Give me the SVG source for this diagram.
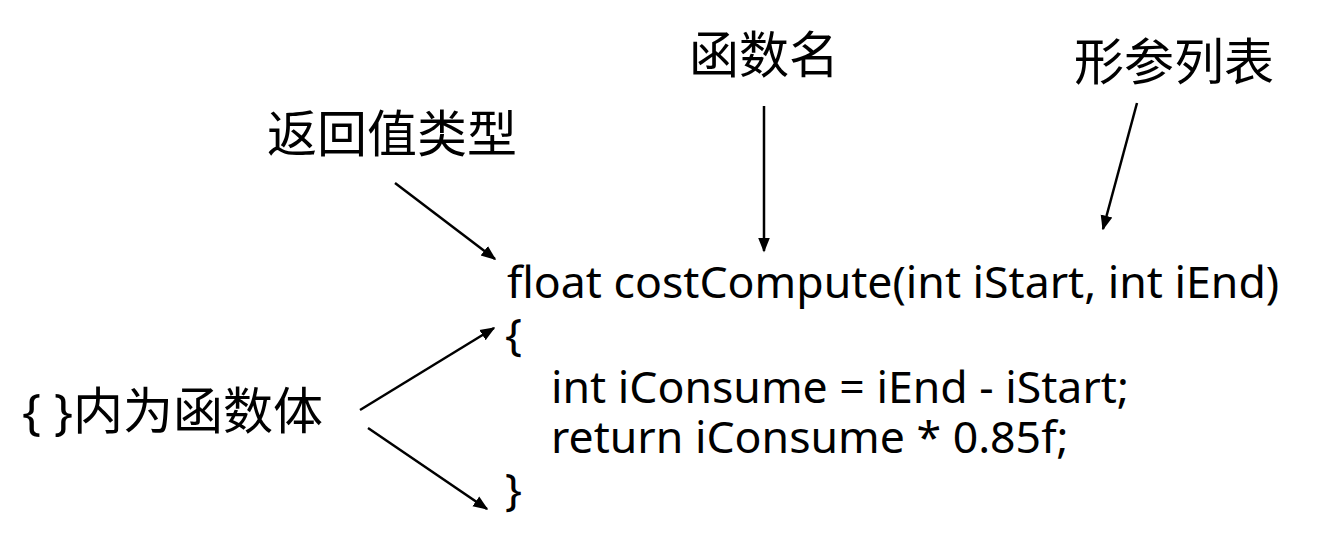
<svg xmlns="http://www.w3.org/2000/svg" width="1328" height="540" viewBox="0 0 1328 540">
<defs>
<style>
.lbl{font-family:"Noto Sans","Noto Sans CJK SC",sans-serif;font-size:50px;fill:#000}
.code{font-family:"Noto Sans","Noto Sans CJK SC",sans-serif;font-size:44.6px;fill:#000}
.arr{stroke:#000;stroke-width:2.5;fill:none;marker-end:url(#ah)}
</style>
<marker id="ah" viewBox="0 0 10 10" refX="9" refY="5" markerWidth="6" markerHeight="6" markerUnits="strokeWidth" orient="auto">
<path d="M0,1 L10,5 L0,9 z" fill="#000"/>
</marker>
</defs>
<rect width="1328" height="540" fill="#fff"/>
<g id="connectors">
<line class="arr" x1="395" y1="183" x2="495" y2="259"/>
<line class="arr" x1="764" y1="106" x2="764" y2="251"/>
<line class="arr" x1="1137" y1="103" x2="1103" y2="229"/>
<line class="arr" x1="360" y1="410" x2="494" y2="328"/>
<line class="arr" x1="368" y1="428" x2="487" y2="509"/>
</g>
<g id="label-return-type"><text class="lbl" x="267" y="152">返回值类型</text></g>
<g id="label-func-name"><text class="lbl" x="689" y="73">函数名</text></g>
<g id="label-params"><text class="lbl" x="1074" y="80">形参列表</text></g>
<g id="label-body"><text class="lbl" x="22" y="429">{ }内为函数体</text></g>
<g id="code">
<text class="code" x="507" y="298">float costCompute(int iStart, int iEnd)</text>
<text class="code" x="505" y="350">{</text>
<text class="code" x="551" y="403">int iConsume = iEnd - iStart;</text>
<text class="code" x="551" y="453">return iConsume * 0.85f;</text>
<text class="code" x="505" y="505">}</text>
</g>
</svg>
